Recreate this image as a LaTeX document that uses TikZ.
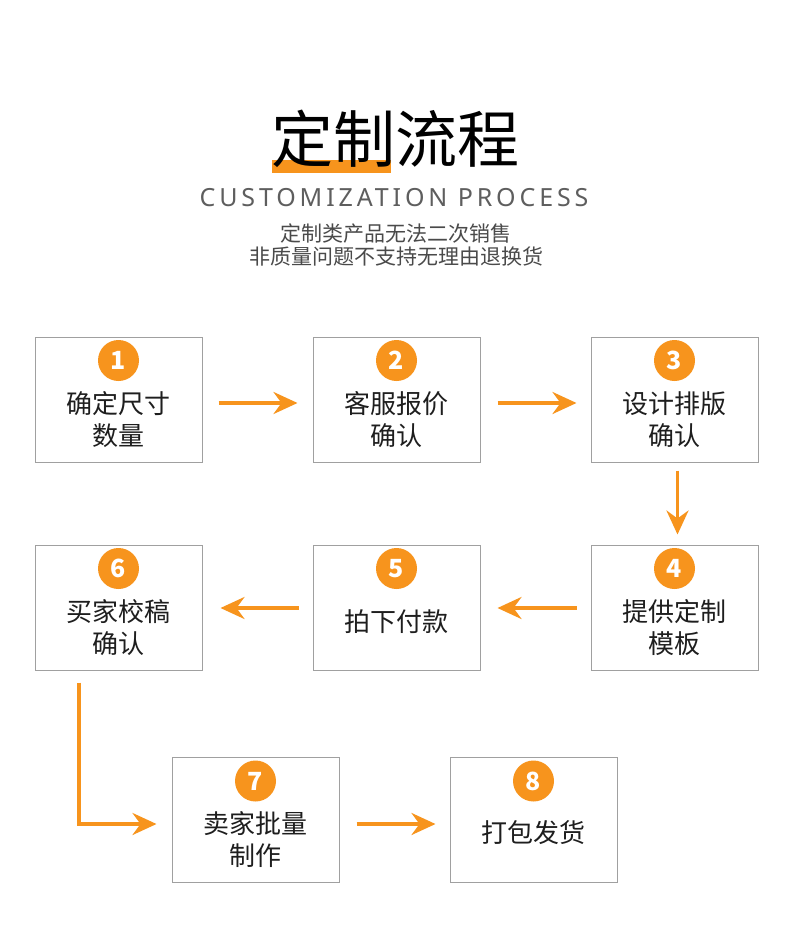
\documentclass[tikz,border=0pt]{standalone}
\usepackage{fontspec}
\setmainfont{Noto Sans CJK SC}
\newfontfamily\latinsp[LetterSpace=15.5]{Noto Sans}
\usetikzlibrary{arrows.meta,calc}
\definecolor{orng}{HTML}{F7941D}
\definecolor{boxgray}{HTML}{A0A0A0}
\definecolor{txtdark}{HTML}{1E1E1E}
\definecolor{subgray}{HTML}{5E5E5E}
\definecolor{notegray}{HTML}{4A4A4A}
\begin{document}
\begin{tikzpicture}[x=1pt,y=-1pt,
  stepbox/.style={draw=boxgray, line width=1pt, minimum width=167pt, minimum height=125pt, inner sep=0pt},
  num/.style={circle, fill=orng, minimum size=41pt, inner sep=0pt, text=white, font=\bfseries\fontsize{25}{25}\selectfont},
  lbl/.style={align=center, text=txtdark, inner sep=0pt, font=\fontsize{26}{32}\selectfont},
  arr/.style={draw=orng, line width=3.5pt, -{Stealth[length=24pt, width=22pt, inset=8pt]}}]
\useasboundingbox[fill=white] (0,0) rectangle (790,938);
% title
\fill[orng] (272,160) rectangle (391,173);
\node[text=black, inner sep=0pt, font=\fontsize{62}{62}\selectfont] (title) at (395,139) {定制流程};
\node[text=subgray, inner sep=0pt, font=\latinsp\fontsize{25}{25}\selectfont] (sub) at (394,198) {CUSTOMIZATION PROCESS};
\node[text=notegray, inner sep=0pt, align=center, font=\fontsize{21}{23}\selectfont] (note) at (396,245) {定制类产品无法二次销售\\非质量问题不支持无理由退换货};
% boxes
\node[stepbox] (b1) at (118.5,399.5) {};
\node[stepbox] (b2) at (396.5,399.5) {};
\node[stepbox] (b3) at (674.5,399.5) {};
\node[stepbox] (b6) at (118.5,607.5) {};
\node[stepbox] (b5) at (396.5,607.5) {};
\node[stepbox] (b4) at (674.5,607.5) {};
\node[stepbox] (b7) at (255.5,820) {};
\node[stepbox] (b8) at (533.5,820) {};
% numbers
\foreach \b/\n in {b1/1,b2/2,b3/3,b4/4,b5/5,b6/6,b7/7,b8/8}{
  \node[num] (c\n) at ($(\b.north)+(0,24)$) {\n};
}
% labels
\node[lbl] (t1) at ($(b1.north)+(0,83)$) {确定尺寸\\数量};
\node[lbl] (t2) at ($(b2.north)+(0,83)$) {客服报价\\确认};
\node[lbl] (t3) at ($(b3.north)+(0,83)$) {设计排版\\确认};
\node[lbl] (t4) at ($(b4.north)+(0,83)$) {提供定制\\模板};
\node[lbl] (t5) at ($(b5.north)+(0,77)$) {拍下付款};
\node[lbl] (t6) at ($(b6.north)+(0,83)$) {买家校稿\\确认};
\node[lbl] (t7) at ($(b7.north)+(0,83)$) {卖家批量\\制作};
\node[lbl] (t8) at ($(b8.north)+(0,76)$) {打包发货};
% arrows
\draw[arr] ($(b1.east)+(16,3.5)$) -- ($(b2.west)+(-15,3.5)$);
\draw[arr] ($(b2.east)+(17,3.5)$) -- ($(b3.west)+(-14,3.5)$);
\draw[arr] ($(b3.south)+(3,8)$) -- ($(b4.north)+(3,-10)$);
\draw[arr] ($(b4.west)+(-14,0.5)$) -- ($(b5.east)+(17,0.5)$);
\draw[arr] ($(b5.west)+(-14,0.5)$) -- ($(b6.east)+(18,0.5)$);
\coordinate (lstart) at ($(b6.south)+(-39.5,12)$);
\draw[arr] (lstart) |- ($(b7.west)+(-15,4)$);
\draw[arr] ($(b7.east)+(17,4)$) -- ($(b8.west)+(-14,4)$);
\end{tikzpicture}
\end{document}
